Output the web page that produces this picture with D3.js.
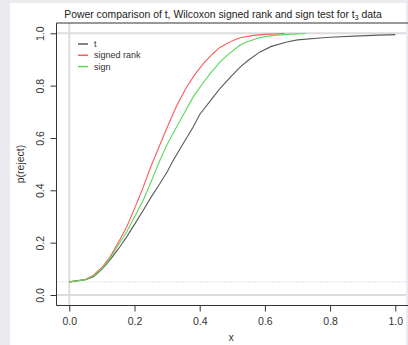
<!DOCTYPE html>
<html>
<head>
<meta charset="utf-8">
<script src="https://cdn.jsdelivr.net/npm/d3@7"></script>
<style>
    body { margin: 0; background: #e9ebef; }
    svg { display: block; font-family: "Liberation Sans", Arial, sans-serif; }
</style>
</head>
<body>
<svg id="chart-svg" width="408" height="345"></svg>
<script>
// power curves (shift vs p(reject))
const tShift = [0, 0.05, 0.074, 0.1, 0.125, 0.15, 0.176, 0.2, 0.227, 0.25, 0.278, 0.3, 0.319, 0.35, 0.38, 0.4, 0.442, 0.462, 0.5, 0.524, 0.549, 0.585, 0.62, 0.667, 0.7, 0.769, 0.8, 0.89, 0.95, 1.0];
const tPower = [0.05, 0.058, 0.07, 0.098, 0.134, 0.175, 0.222, 0.27, 0.324, 0.372, 0.426, 0.47, 0.515, 0.58, 0.642, 0.69, 0.757, 0.789, 0.84, 0.871, 0.897, 0.929, 0.95, 0.967, 0.975, 0.982, 0.985, 0.99, 0.993, 0.995];

const rankShift = [0, 0.05, 0.074, 0.1, 0.125, 0.15, 0.176, 0.2, 0.227, 0.25, 0.27, 0.3, 0.33, 0.36, 0.385, 0.411, 0.44, 0.462, 0.5, 0.524, 0.565, 0.6, 0.66];
const rankPower = [0.05, 0.06, 0.076, 0.105, 0.146, 0.2, 0.26, 0.33, 0.413, 0.49, 0.55, 0.64, 0.725, 0.795, 0.842, 0.884, 0.922, 0.946, 0.972, 0.983, 0.992, 0.996, 0.999];

const signShift = [0, 0.05, 0.074, 0.1, 0.125, 0.15, 0.176, 0.2, 0.227, 0.25, 0.278, 0.3, 0.329, 0.35, 0.38, 0.41, 0.432, 0.462, 0.483, 0.524, 0.544, 0.585, 0.62, 0.667, 0.725];
const signPower = [0.05, 0.058, 0.073, 0.1, 0.14, 0.19, 0.242, 0.298, 0.363, 0.43, 0.515, 0.575, 0.642, 0.69, 0.757, 0.81, 0.846, 0.89, 0.915, 0.955, 0.967, 0.984, 0.991, 0.996, 0.999];

const seriesNames = ["t", "signed rank", "sign"];
const seriesColors = ["#5a5a5a", "#ff5a5a", "#5ad85a"];
const xTicks = [0, 0.2, 0.4, 0.6, 0.8, 1.0];
const yTicks = [0, 0.2, 0.4, 0.6, 0.8, 1.0];
const alphaLevel = 0.05;

class PowerChart
{
    constructor()
    {
        this.svg = d3.select("#chart-svg");
        this.box = {left: 56.5, top: 23, right: 420, bottom: 305.5};
        this.x = d3.scaleLinear().domain([0, 1]).range([69.3, 395.3]);
        this.y = d3.scaleLinear().domain([0, 1]).range([295, 33.3]);
    }

    draw()
    {
        const svg = this.svg;
        const x = this.x;
        const y = this.y;

        // white panel
        svg.append("rect")
            .attr("x", 10).attr("y", 3)
            .attr("width", 396).attr("height", 342)
            .attr("fill", "#fff");

        // reference lines at 0, 1 and the level
        svg.selectAll(".ref-h")
            .data([0, 1])
            .join("line")
            .attr("x1", this.box.left).attr("x2", 406)
            .attr("y1", d => y(d)).attr("y2", d => y(d))
            .attr("stroke", "#dcdcdc").attr("stroke-width", 2);

        svg.append("line")
            .attr("x1", x(0)).attr("x2", x(0))
            .attr("y1", this.box.top).attr("y2", this.box.bottom)
            .attr("stroke", "#dcdcdc").attr("stroke-width", 2);

        svg.append("line")
            .attr("x1", this.box.left).attr("x2", 406)
            .attr("y1", y(alphaLevel)).attr("y2", y(alphaLevel))
            .attr("stroke", "#bdbdbd").attr("stroke-width", 1)
            .attr("stroke-dasharray", "1,2");

        // curves
        const line = d3.line().x(d => x(d[0])).y(d => y(d[1]));
        const curves = [
            d3.zip(tShift, tPower),
            d3.zip(rankShift, rankPower),
            d3.zip(signShift, signPower)
        ];

        svg.selectAll(".curve")
            .data(curves)
            .join("path")
            .attr("class", "curve")
            .attr("d", line)
            .attr("fill", "none")
            .attr("stroke", (d, i) => seriesColors[i])
            .attr("stroke-width", 1.1);

        // plot box (right side runs off the picture)
        svg.append("path")
            .attr("d", `M${this.box.right},${this.box.top}H${this.box.left}V${this.box.bottom}H${this.box.right}`)
            .attr("fill", "none")
            .attr("stroke", "#333")
            .attr("stroke-width", 1);

        this.drawAxes();
        this.drawLegend();
        this.drawLabels();
    }

    drawAxes()
    {
        const xAxis = d3.axisBottom(this.x).tickValues(xTicks).tickFormat(d3.format(".1f")).tickSize(6);
        const gx = this.svg.append("g")
            .attr("transform", `translate(0,${this.box.bottom})`)
            .call(xAxis);
        gx.select(".domain").remove();
        gx.selectAll("line").attr("stroke", "#333");
        gx.selectAll("text")
            .attr("y", 12)
            .attr("font-size", 10.5)
            .attr("fill", "#333")
            .attr("font-family", "Liberation Sans, Arial, sans-serif");

        const yAxis = d3.axisLeft(this.y).tickValues(yTicks).tickFormat(d3.format(".1f")).tickSize(6);
        const gy = this.svg.append("g")
            .attr("transform", `translate(${this.box.left},0)`)
            .call(yAxis);
        gy.select(".domain").remove();
        gy.selectAll("line").attr("stroke", "#333");
        gy.selectAll("text")
            .attr("x", 0).attr("dy", 0)
            .attr("transform", "translate(-13,0) rotate(-90)")
            .attr("text-anchor", "middle")
            .attr("font-size", 10.5)
            .attr("fill", "#333")
            .attr("font-family", "Liberation Sans, Arial, sans-serif");
    }

    drawLegend()
    {
        const legend = this.svg.append("g").attr("transform", "translate(78,44)");
        const rows = legend.selectAll("g")
            .data(seriesNames)
            .join("g")
            .attr("transform", (d, i) => `translate(0,${i * 11.3})`);

        rows.append("line")
            .attr("x1", 0).attr("x2", 10)
            .attr("stroke", (d, i) => seriesColors[i])
            .attr("stroke-width", 1.5);

        rows.append("text")
            .attr("x", 16).attr("dy", "0.35em")
            .attr("font-size", 9)
            .attr("fill", "#333")
            .text(d => d);
    }

    drawLabels()
    {
        const title = this.svg.append("text")
            .attr("x", 223).attr("y", 18)
            .attr("text-anchor", "middle")
            .attr("font-size", 10.4)
            .attr("fill", "#222");
        title.append("tspan").text("Power comparison of t, Wilcoxon signed rank and sign test for t");
        title.append("tspan").attr("font-size", 7).attr("dy", 2).text("3");
        title.append("tspan").attr("dy", -2).text(" data");

        this.svg.append("text")
            .attr("x", 231).attr("y", 341)
            .attr("text-anchor", "middle")
            .attr("font-size", 10.5)
            .attr("fill", "#333")
            .text("x");

        this.svg.append("text")
            .attr("transform", "translate(24,164) rotate(-90)")
            .attr("text-anchor", "middle")
            .attr("font-size", 10.5)
            .attr("fill", "#333")
            .text("p(reject)");
    }
}

const chart = new PowerChart();
chart.draw();
</script>
</body>
</html>
